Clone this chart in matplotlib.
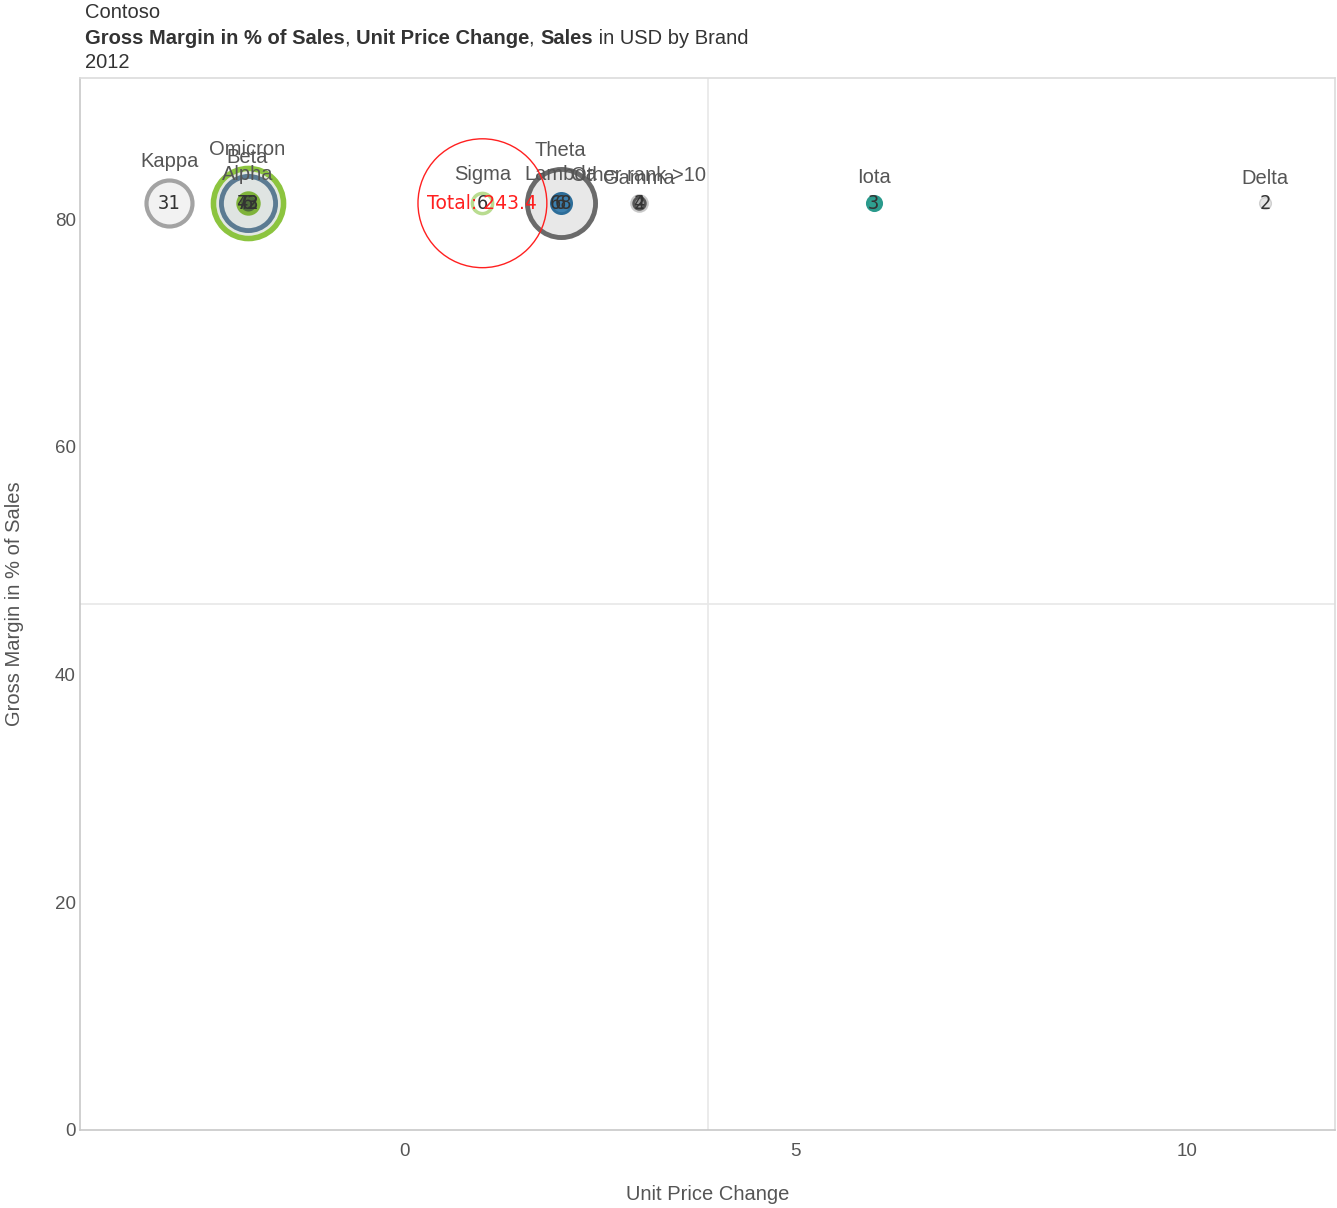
import numpy as np
import matplotlib
matplotlib.use("Agg")
import matplotlib.pyplot as plt

# Brand data: unit price change, gross margin %, sales (millions USD)
brands = ["Kappa", "Omicron", "Beta", "Alpha", "Sigma", "Theta", "Lambda",
          "Other rank >10", "Gamma", "Iota", "Delta"]
price_change = [-3.0, -2.0, -2.0, -2.0, 1.0, 2.0, 2.0, 3.0, 3.0, 6.0, 11.0]
gross_margin = [81.4, 81.4, 81.4, 81.4, 81.4, 81.4, 81.4, 81.4, 81.4, 81.4, 81.4]
sales = [31.0, 72.0, 43.0, 6.0, 6.0, 68.0, 6.0, 4.0, 2.0, 3.0, 2.0]
edge_colors = ["#a3a3a3", "#8cc43f", "#5b7b92", "#7fb33a", "#b9dc90", "#6a6a6a",
               "#2d6d99", "#c8c8c8", "#555555", "#2a9a8c", "#cfcfcf"]
face_colors = ["#f2f2f2", "#e3e8e1", "#dfe4e2", "#4e6b3a", "#ffffff", "#e8e8e8",
               "#3c7fae", "#dedede", "#9a9a9a", "#2fa090", "#e6e6e6"]
edge_widths = [3.0, 4.0, 3.5, 3.0, 2.5, 3.5, 2.0, 1.5, 2.0, 2.0, 1.0]
total_label = "Total: 243.4"
total_value = 243.4
total_x, total_y = 1.0, 81.4

xlim = (-4.14, 11.89)
ylim = (0.0, 92.4)

W, H, DPI = 1337, 1208, 100
fig = plt.figure(figsize=(W / DPI, H / DPI), dpi=DPI)
ax = fig.add_axes([80 / W, 1 - 1130 / H, (1335 - 80) / W, (1130 - 78) / H])

# marker radius in pixels grows with the square root of sales
radius_per_sqrt = 4.13
def radius_px(v):
    return radius_per_sqrt * np.sqrt(v)

def area_pts(v):
    d_pt = 2 * radius_px(v) * 72 / DPI
    return d_pt ** 2

ax.set_xlim(*xlim)
ax.set_ylim(*ylim)

# quadrant lines through the middle of the plot
ax.axvline(sum(xlim) / 2, color="#e8e8e8", lw=1.2, zorder=0)
ax.axhline(sum(ylim) / 2, color="#e8e8e8", lw=1.2, zorder=0)

order = np.argsort(sales)[::-1]
for k, i in enumerate(order):
    ax.scatter(price_change[i], gross_margin[i], s=area_pts(sales[i]),
               facecolors=face_colors[i], edgecolors=edge_colors[i],
               linewidths=edge_widths[i], zorder=3 + k * 0.01)

for i in order:
    ax.annotate(f"{sales[i]:.0f}", (price_change[i], gross_margin[i]),
                ha="center", va="center", fontsize=13.5,
                family="DejaVu Sans Mono", color="#333333", zorder=6)

for i in range(len(brands)):
    off = (radius_px(sales[i]) + 19) * 72 / DPI
    ax.annotate(brands[i], (price_change[i], gross_margin[i]),
                xytext=(0, off), textcoords="offset points",
                ha="center", va="center", fontsize=14.5,
                family="Liberation Sans", color="#555555", zorder=7)

# overall total shown as an outline bubble
ax.scatter([total_x], [total_y], s=area_pts(total_value), facecolors="none",
           edgecolors="#ff2020", linewidths=1.0, zorder=8)
ax.annotate(total_label, (total_x, total_y), ha="center", va="center",
            fontsize=13.5, family="DejaVu Sans", color="#ff2020", zorder=9)

ax.set_xticks([0, 5, 10])
ax.set_yticks([0, 20, 40, 60, 80])
ax.tick_params(length=0, labelsize=13.5, colors="#555555")
ax.tick_params(axis="x", pad=9)
ax.tick_params(axis="y", pad=3)
for lab in ax.get_xticklabels() + ax.get_yticklabels():
    lab.set_family("Liberation Sans")

ax.set_xlabel("Unit Price Change", fontsize=14.5, family="Liberation Sans",
              color="#555555", labelpad=18)
ax.set_ylabel("Gross Margin in % of Sales", fontsize=14.5, family="Liberation Sans",
              color="#555555", labelpad=22)

for side in ["top", "right"]:
    ax.spines[side].set_color("#dcdcdc")
for side in ["left", "bottom"]:
    ax.spines[side].set_color("#c8c8c8")
for sp in ax.spines.values():
    sp.set_linewidth(1.2)

# header lines
tx = 85 / W
head_size = 14.5
fig.text(tx, 1 - 12 / H, "Contoso", fontsize=head_size, family="Liberation Sans",
         color="#333333", va="center", ha="left")
fig.text(tx, 1 - 63 / H, "2012", fontsize=head_size, family="Liberation Sans",
         color="#333333", va="center", ha="left")
parts = [("Gross Margin in % of Sales", "bold"), (", ", "normal"),
         ("Unit Price Change", "bold"), (", ", "normal"),
         ("Sales", "bold"), (" in USD by Brand", "normal")]
base_y = 1 - 44 / H
pieces = [fig.text(tx, base_y, txt, fontsize=head_size, family="Liberation Sans",
                   fontweight=wt, color="#333333", va="baseline", ha="left")
          for txt, wt in parts]
# place the pieces side by side using their rendered widths
fig.canvas.draw()
renderer = fig.canvas.get_renderer()
x_px = pieces[0].get_window_extent(renderer).x1
for t in pieces[1:]:
    t.set_position((x_px / W, base_y))
    x_px = t.get_window_extent(renderer).x1

fig.savefig("out.png", dpi=DPI)
